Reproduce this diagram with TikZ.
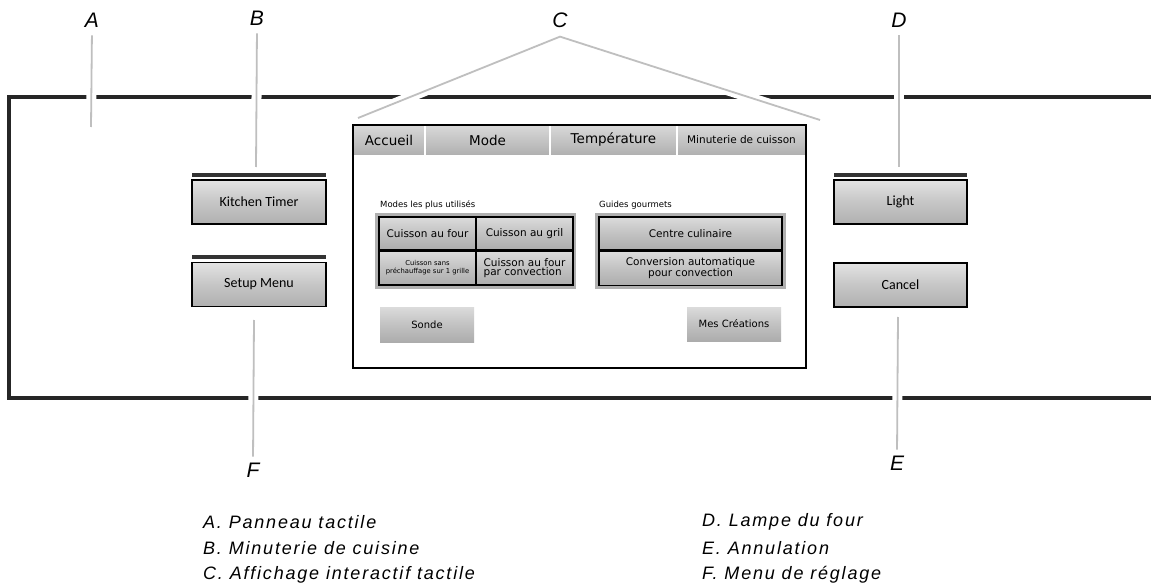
\documentclass[tikz,border=0pt]{standalone}
\usepackage{fontspec}
\setmainfont{Liberation Sans}
\newfontfamily\uifont{DejaVu Sans}
\newfontfamily\btnfont{Carlito}
\newfontfamily\legendfont[LetterSpace=10]{Liberation Sans}

\begin{document}
\begin{tikzpicture}[x=1pt, y=-1pt,
    leader/.style={gray!50, line width=1.8pt, preaction={draw=white, line width=10pt}},
    callout/.style={font=\itshape\fontsize{21}{21}\selectfont, inner sep=2pt},
    legend/.style={font=\legendfont\itshape\fontsize{18}{18}\selectfont, anchor=west, inner sep=0pt},
    sidebtn/.style={draw=black, line width=1.8pt, top color=gray!22, bottom color=gray!62, middle color=gray!45,
        minimum width=134pt, minimum height=44pt, font=\btnfont\fontsize{14}{14}\selectfont},
    sidebar/.style={fill=black!80},
    tabbtn/.style={top color=gray!30, bottom color=gray!62, minimum height=30pt, inner sep=0pt,
        font=\uifont\fontsize{13.5}{13.5}\selectfont},
    inbtn/.style={draw=black, line width=1.2pt, top color=gray!28, bottom color=gray!65, middle color=gray!48,
        inner sep=1pt, align=center, font=\uifont\fontsize{10.5}{10}\selectfont},
    flatbtn/.style={top color=gray!28, bottom color=gray!65, middle color=gray!48, inner sep=0pt,
        font=\uifont\fontsize{10}{10}\selectfont},
    caption/.style={anchor=west, inner sep=0pt, font=\uifont\fontsize{8.5}{8.5}\selectfont}]

    \useasboundingbox (0,0) rectangle (1151,588);

    % Khung bảng điều khiển
    \draw[black!85, line width=3.5pt] (1155,97) -- (9,97) -- (9,398) -- (1155,398);

    % Nhãn A--F
    \node[callout] (labA) at (92,20) {A};
    \node[callout] (labB) at (257,18) {B};
    \node[callout] (labC) at (560,20) {C};
    \node[callout] (labD) at (899,20) {D};
    \node[callout] (labE) at (897,463) {E};
    \node[callout] (labF) at (253,470) {F};

    \coordinate (endA) at (91,127);
    \coordinate (endB) at (256,167);
    \coordinate (endC1) at (358,118);
    \coordinate (endC2) at (820,120);
    \coordinate (endD) at (899,167);
    \coordinate (endE) at (898,317);
    \coordinate (endF) at (254,320);

    % Đường chỉ dẫn
    \draw[leader, shorten <=6pt] (labA.south) -- (endA);
    \draw[leader, shorten <=6pt] (labB.south) -- (endB);
    \draw[leader] (endC1) -- ([yshift=-7pt]labC.south) -- (endC2);
    \draw[leader, shorten <=6pt] (labD.south) -- (endD);
    \draw[leader, shorten <=4pt] (labE.north) -- (endE);
    \draw[leader, shorten <=4pt] (labF.north) -- (endF);

    % Nút bên trái
    \fill[sidebar] (192,173) rectangle (326,177);
    \node[sidebtn] (timer) at (259,202) {Kitchen Timer};
    \fill[sidebar] (192,255) rectangle (326,259);
    \node[sidebtn] (setup) at (259,284.5) {Setup Menu};

    % Nút bên phải
    \fill[sidebar] (834,173) rectangle (967,177);
    \node[sidebtn, minimum width=133pt] (light) at (900.5,202) {Light};
    \node[sidebtn, minimum width=133pt] (cancel) at (900.5,285) {Cancel};

    % Màn hình cảm ứng
    \draw[black, line width=1.6pt, fill=white] (353,125) rectangle (806,368);
    \node[tabbtn, minimum width=72pt] (tabHome) at (389,140) {Accueil};
    \node[tabbtn, minimum width=125pt] (tabMode) at (487.5,140) {Mode};
    \node[tabbtn, minimum width=127pt] (tabTemp) at (613.5,140) {Température};
    \node[tabbtn, minimum width=129pt, font=\uifont\fontsize{10.5}{10.5}\selectfont] (tabCook) at (741.5,140) {Minuterie de cuisson};
    \draw[white, line width=1.5pt] (425,126) -- (425,155) (550,126) -- (550,155) (677,126) -- (677,155);
    \draw[black, line width=1.6pt] (353,125) rectangle (806,368);

    % Modes les plus utilisés
    \node[caption] (capModes) at (380,205) {Modes les plus utilisés};
    \fill[gray!62] (375,213) rectangle (576,289);
    \node[inbtn, minimum width=97pt, minimum height=33pt] (bake) at (427.5,233.5) {Cuisson au four};
    \node[inbtn, minimum width=97pt, minimum height=33pt] (broil) at (524.5,233.5) {Cuisson au gril};
    \node[inbtn, minimum width=97pt, minimum height=34pt, font=\uifont\fontsize{6.8}{8}\selectfont] (nopre) at (427.5,268) {Cuisson sans\\préchauffage sur 1 grille};
    \node[inbtn, minimum width=97pt, minimum height=34pt, align=left, font=\uifont\fontsize{10.5}{9.5}\selectfont] (conv) at (524.5,268) {Cuisson au four\\par convection};

    % Guides gourmets
    \node[caption] (capGuides) at (599,205) {Guides gourmets};
    \fill[gray!62] (595,213) rectangle (786,289);
    \node[inbtn, minimum width=183pt, minimum height=33pt] (chef) at (690.5,233.5) {Centre culinaire};
    \node[inbtn, minimum width=183pt, minimum height=34pt, font=\uifont\fontsize{10.5}{9.5}\selectfont] (autoconv) at (690.5,268.5) {Conversion automatique\\pour convection};

    % Sonde et Mes Créations
    \node[flatbtn, minimum width=94pt, minimum height=35pt] (probe) at (427,324.5) {Sonde};
    \node[flatbtn, minimum width=94pt, minimum height=34pt] (mine) at (734,324) {Mes Créations};

    % Légende
    \node[legend] (legA) at (203,522) {A. Panneau tactile};
    \node[legend] (legB) at (203,548) {B. Minuterie de cuisine};
    \node[legend] (legC) at (203,575) {C. Affichage interactif tactile};
    \node[legend] (legD) at (702,522) {D. Lampe du four};
    \node[legend] (legE) at (702,548) {E. Annulation};
    \node[legend] (legF) at (702,575) {F. Menu de réglage};
\end{tikzpicture}
\end{document}
